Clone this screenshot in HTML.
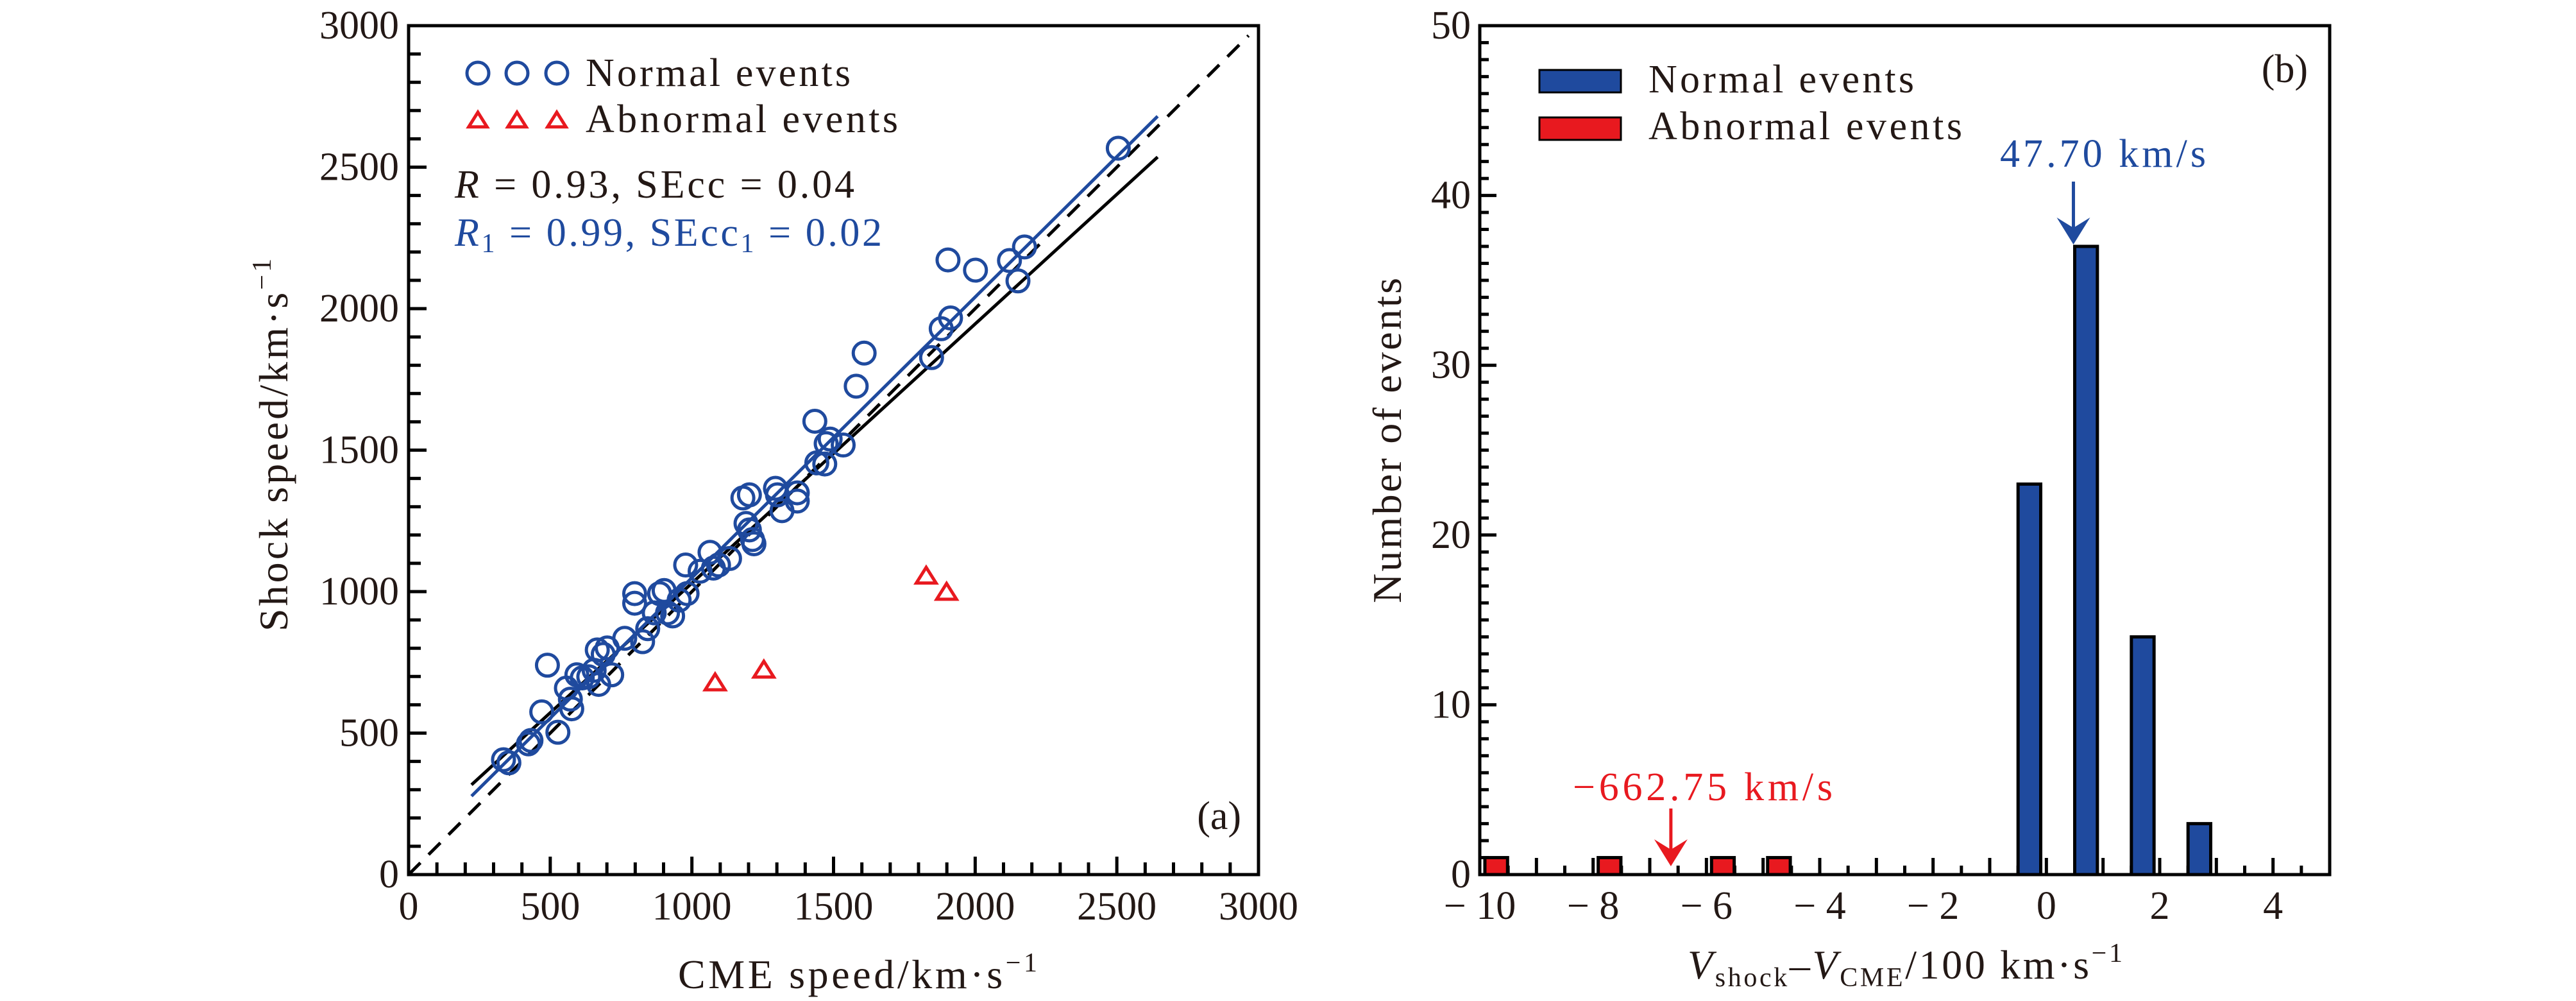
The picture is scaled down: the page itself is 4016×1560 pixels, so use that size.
<!DOCTYPE html>
<html><head><meta charset="utf-8"><style>
html,body{margin:0;padding:0;background:#fff}
svg{display:block}
text{font-family:"Liberation Serif",serif;fill:#231815}
</style></head><body>
<svg id="chart" width="4016" height="1560" viewBox="0 0 4016 1560" xmlns="http://www.w3.org/2000/svg">
<g id="pa"></g>
<g id="pb"></g>
</svg>
<script>
// Panel (a) data
const normalCME=[335,354,423,432,490,470,527,557,571,576,594,613,636,655,666,671,687,701,717,763,798,798,826,844,867,886,902,914,932,955,978,983,1029,1064,1076,1094,1133,1180,1203,1191,1203,1214,1219,1295,1302,1318,1372,1372,1434,1441,1469,1474,1488,1534,1580,1608,1846,1880,1913,1904,2001,2121,2151,2174,2505];
const normalShock=[406,395,462,474,740,575,503,659,620,586,706,695,699,722,794,672,778,801,706,835,993,959,823,869,925,993,1004,925,914,970,1094,993,1072,1139,1083,1094,1117,1331,1342,1241,1218,1184,1169,1365,1342,1286,1320,1349,1602,1455,1451,1523,1539,1518,1726,1843,1827,1929,1967,2172,2136,2170,2098,2218,2567];
const abnormalCME=[1082,1254,1827,1899];
const abnormalShock=[677,722,1054,997];
const fitAll=[114,0.916];   // intercept, slope
const fitNormal=[57,0.992];
const fitRange=[222,2644];
const aTicks=[0,500,1000,1500,2000,2500,3000];
// Panel (b) data
const binCenters=[-9.71,-7.71,-5.71,-4.72,-0.3,0.7,1.7,2.7];
const binCounts=[1,1,1,1,23,37,14,3];
const binGroup=['ab','ab','ab','ab','n','n','n','n'];
const bXTicks=[-10,-8,-6,-4,-2,0,2,4];
const bYTicks=[0,10,20,30,40,50];
const meanNormal=0.477, meanAbnormal=-6.6275;

const NS='http://www.w3.org/2000/svg';
const BLUE='#1f4a9e', RED='#e8191f', K='#000';
function mk(parent,tag,attrs,txt){const e=document.createElementNS(NS,tag);for(const k in attrs)e.setAttribute(k,attrs[k]);if(txt!==undefined)e.textContent=txt;parent.appendChild(e);return e;}
function tri(g,cx,cy,s){return mk(g,'polygon',{points:`${cx},${cy-s} ${cx-s*1.1},${cy+s*0.75} ${cx+s*1.1},${cy+s*0.75}`,fill:'none',stroke:RED,'stroke-width':5});}
const svg=document.getElementById('chart');

// ---------- Panel a ----------
const pa=document.getElementById('pa');
const aL=637,aR=1962,aT=40,aB=1363;
const ax=v=>aL+v/3000*(aR-aL), ay=v=>aB-v/3000*(aB-aT);
for(let v=100;v<3000;v+=100){const maj=v%500===0,len=maj?28:19;
 let t=mk(pa,'line',{x1:ax(v),x2:ax(v),y1:aB,y2:aB-len,stroke:K,'stroke-width':5});
 
 t=mk(pa,'line',{x1:aL,x2:aL+len,y1:ay(v),y2:ay(v),stroke:K,'stroke-width':5});
 }
aTicks.forEach(v=>{
 let t=mk(pa,'text',{x:ax(v),y:1433,'font-size':62,'text-anchor':'middle'},String(v));
 
 t=mk(pa,'text',{x:622,y:ay(v)+20,'font-size':62,'text-anchor':'end'},String(v));
 });
let ln=mk(pa,'line',{x1:ax(0),y1:ay(0),x2:ax(2965),y2:ay(2965),stroke:K,'stroke-width':5,'stroke-dasharray':'26,18'});

ln=mk(pa,'line',{x1:ax(fitRange[0]),y1:ay(fitAll[0]+fitAll[1]*fitRange[0]),x2:ax(fitRange[1]),y2:ay(fitAll[0]+fitAll[1]*fitRange[1]),stroke:K,'stroke-width':5});

ln=mk(pa,'line',{x1:ax(fitRange[0]),y1:ay(fitNormal[0]+fitNormal[1]*fitRange[0]),x2:ax(fitRange[1]),y2:ay(fitNormal[0]+fitNormal[1]*fitRange[1]),stroke:BLUE,'stroke-width':5});

normalCME.forEach((c,i)=>{const p=mk(pa,'circle',{cx:ax(c),cy:ay(normalShock[i]),r:17,fill:'none',stroke:BLUE,'stroke-width':5});
 });
abnormalCME.forEach((c,i)=>{const p=tri(pa,ax(c),ay(abnormalShock[i]),14);
 });
let bx=mk(pa,'rect',{x:aL,y:aT,width:aR-aL,height:aB-aT,fill:'none',stroke:K,'stroke-width':5});


const la=mk(svg,'g',{});

[745,806,868].forEach(x=>mk(la,'circle',{cx:x,cy:114,r:17,fill:'none',stroke:BLUE,'stroke-width':5}));
[745,806,868].forEach(x=>tri(la,x,188,13));
mk(la,'text',{x:913,y:134,'font-size':62,textLength:413,lengthAdjust:'spacing'},'Normal events');
mk(la,'text',{x:913,y:206,'font-size':62,textLength:487,lengthAdjust:'spacing'},'Abnormal events');

const ann=mk(svg,'g',{});

const t1=mk(ann,'text',{x:709,y:308,'font-size':62,textLength:623,lengthAdjust:'spacing'});
t1.innerHTML='<tspan font-style="italic">R</tspan> = 0.93, SEcc = 0.04';
const t2=mk(ann,'text',{x:709,y:383,'font-size':62,textLength:666,lengthAdjust:'spacing',style:'fill:'+BLUE});
t2.innerHTML='<tspan font-style="italic" style="fill:'+BLUE+'">R</tspan><tspan font-size="42" dy="10" style="fill:'+BLUE+'">1</tspan><tspan dy="-10" style="fill:'+BLUE+'"> = 0.99, SEcc</tspan><tspan font-size="42" dy="10" style="fill:'+BLUE+'">1</tspan><tspan dy="-10" style="fill:'+BLUE+'"> = 0.02</tspan>';
let lbl=mk(svg,'text',{x:1935,y:1292,'font-size':62,'text-anchor':'end'},'(a)');

lbl=mk(svg,'text',{x:1057,y:1540,'font-size':64,textLength:560,lengthAdjust:'spacing'});
lbl.innerHTML='CME speed/km·s<tspan font-size="42" dy="-26">−1</tspan>';

lbl=mk(svg,'text',{x:0,y:0,'font-size':64,textLength:581,lengthAdjust:'spacing',transform:'translate(448,984) rotate(-90)'});
lbl.innerHTML='Shock speed/km·s<tspan font-size="42" dy="-26">−1</tspan>';


// ---------- Panel b ----------
const pb=document.getElementById('pb');
const bL=2307,bR=3632,bT=40,bB=1363;
const bx2=v=>bL+(v+10)/15*(bR-bL), by=v=>bB-v/50*(bB-bT);
for(let v=-9.5;v<5;v+=0.5){const maj=Number.isInteger(v),len=maj?26:14;
 const t=mk(pb,'line',{x1:bx2(v),x2:bx2(v),y1:bB,y2:bB-len,stroke:K,'stroke-width':5});
 }
for(let v=1;v<50;v++){const len=v%10===0?26:14;
 const t=mk(pb,'line',{x1:bL,x2:bL+len,y1:by(v),y2:by(v),stroke:K,'stroke-width':5});
 }
bXTicks.forEach(v=>{const t=mk(pb,'text',{x:bx2(v),y:1432,'font-size':62,'text-anchor':'middle'},(v<0?'− ':'')+Math.abs(v));
 });
bYTicks.forEach(v=>{const t=mk(pb,'text',{x:2293,y:by(v)+20,'font-size':62,'text-anchor':'end'},String(v));
 });
binCenters.forEach((c,i)=>{const w=0.4;
 const r=mk(pb,'rect',{x:bx2(c-w/2),y:by(binCounts[i]),width:bx2(c+w/2)-bx2(c-w/2),height:bB-by(binCounts[i]),fill:binGroup[i]==='n'?BLUE:RED,stroke:K,'stroke-width':5});
 
 });
let fr=mk(pb,'rect',{x:bL,y:bT,width:bR-bL,height:bB-bT,fill:'none',stroke:K,'stroke-width':5});

function arrow(g,x,y1,y2,col){mk(g,'line',{x1:x,x2:x,y1:y1,y2:y2-20,stroke:col,'stroke-width':5});
 mk(g,'path',{d:`M${x-26},${y2-42} L${x},${y2} L${x+26},${y2-42} L${x},${y2-26} Z`,fill:col});}
const ab=mk(pb,'g',{});
arrow(ab,bx2(meanNormal),283,by(37)-3,BLUE);
let tx=mk(pb,'text',{x:3118,y:260,'font-size':62,textLength:321,lengthAdjust:'spacing',style:'fill:'+BLUE},'47.70 km/s');

const ar=mk(pb,'g',{});
arrow(ar,bx2(meanAbnormal),1260,1350,RED);
tx=mk(pb,'text',{x:2452,y:1247,'font-size':62,textLength:405,lengthAdjust:'spacing',style:'fill:'+RED},'−662.75 km/s');

const lb=mk(pb,'g',{});
mk(lb,'rect',{x:2400,y:109,width:127,height:35,fill:BLUE,stroke:K,'stroke-width':3});
mk(lb,'rect',{x:2400,y:183,width:127,height:35,fill:RED,stroke:K,'stroke-width':3});
mk(lb,'text',{x:2570,y:144,'font-size':62,textLength:414,lengthAdjust:'spacing'},'Normal events');
mk(lb,'text',{x:2570,y:217,'font-size':62,textLength:489,lengthAdjust:'spacing'},'Abnormal events');
tx=mk(pb,'text',{x:3598,y:128,'font-size':62,'text-anchor':'end'},'(b)');

tx=mk(pb,'text',{x:0,y:0,'font-size':64,textLength:507,lengthAdjust:'spacing',transform:'translate(2184,940) rotate(-90)'},'Number of events');

tx=mk(pb,'text',{x:2631,y:1525,'font-size':64,textLength:678,lengthAdjust:'spacing'});
tx.innerHTML='<tspan font-style="italic">V</tspan><tspan font-size="42" dy="12">shock</tspan><tspan dy="-12">–</tspan><tspan font-style="italic">V</tspan><tspan font-size="42" dy="12">CME</tspan><tspan dy="-12">/100 km·s</tspan><tspan font-size="42" dy="-26">−1</tspan>';

</script>
</body></html>
